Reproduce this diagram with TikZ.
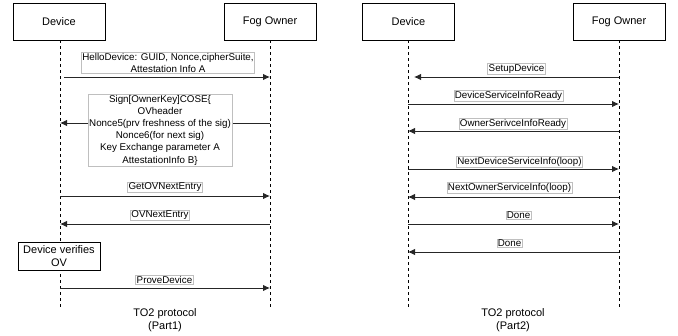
\documentclass[tikz,border=0pt]{standalone}
\usepackage{fontspec}
\setmainfont{Liberation Sans}
\usetikzlibrary{arrows.meta}
\begin{document}
\begin{tikzpicture}[x=1pt,y=-1pt,
  actor/.style={draw=black,line width=0.8pt,minimum width=92pt,minimum height=37pt,font=\fontsize{11}{13}\selectfont,inner sep=0pt},
  life/.style={draw=black,line width=0.7pt,dash pattern=on 3pt off 3pt},
  msg/.style={draw=black!85,line width=0.9pt,-{Latex[length=7pt,width=6.5pt]}},
  lbl/.style={draw=black!25,fill=white,line width=0.5pt,inner xsep=1pt,inner ysep=0.8pt,font=\fontsize{9.8}{12.2}\selectfont,align=center},
  note/.style={draw=black,line width=0.8pt,fill=white,minimum width=82pt,minimum height=28pt,inner sep=0pt,align=center,font=\fontsize{11}{13}\selectfont},
  captext/.style={align=center,font=\fontsize{11}{13}\selectfont}]
\useasboundingbox (0,0) rectangle (678,335);
% ---------- Part 1 ----------
\node[actor] (dev1) at (59,21.5) {Device};
\node[actor] (fog1) at (270,21.5) {Fog Owner};
\coordinate (d1top) at (60,40);
\coordinate (d1bot) at (60,307);
\coordinate (f1top) at (270,40);
\coordinate (f1bot) at (270,307);
\draw[life] (d1top) -- (d1bot);
\draw[life] (f1top) -- (f1bot);

\coordinate (a1s) at (64,77);  \coordinate (a1e) at (270,77);
\coordinate (a2s) at (270,123); \coordinate (a2e) at (60,123);
\coordinate (a3s) at (60,196); \coordinate (a3e) at (270,196);
\coordinate (a4s) at (270,224); \coordinate (a4e) at (60,224);
\coordinate (a5s) at (60,288); \coordinate (a5e) at (270,288);
\draw[msg] (a1s) -- (a1e);
\draw[msg] (a2s) -- (a2e);
\draw[msg] (a3s) -- (a3e);
\draw[msg] (a4s) -- (a4e);
\draw[msg] (a5s) -- (a5e);

\node[lbl] (l1) at (168,63) {HelloDevice: GUID, Nonce,cipherSuite,\\Attestation Info A};
\node[lbl] (l2) at (160,130) {Sign[OwnerKey]COSE\{\\OVheader\\Nonce5(prv freshness of the sig)\\Nonce6(for next sig)\\Key Exchange parameter A\\AttestationInfo B\}};
\node[lbl] (l3) at (165,187.5) {GetOVNextEntry};
\node[lbl] (l4) at (160,215.5) {OVNextEntry};
\node[lbl] (l5) at (164.5,280) {ProveDevice};
\node[note] (ver) at (59,256) {Device verifies\\OV};
\node[captext] (c1) at (165,320.5) {TO2 protocol\\(Part1)};

% ---------- Part 2 ----------
\node[actor] (dev2) at (408.5,21.5) {Device};
\node[actor] (fog2) at (619,21.5) {Fog Owner};
\coordinate (d2top) at (408,40);
\coordinate (d2bot) at (408,307);
\coordinate (f2top) at (619,40);
\coordinate (f2bot) at (619,307);
\draw[life] (d2top) -- (d2bot);
\draw[life] (f2top) -- (f2bot);

\coordinate (b1s) at (619,77);  \coordinate (b1e) at (414,77);
\coordinate (b2s) at (408,104); \coordinate (b2e) at (619,104);
\coordinate (b3s) at (619,131); \coordinate (b3e) at (408,131);
\coordinate (b4s) at (408,169); \coordinate (b4e) at (619,169);
\coordinate (b5s) at (619,197); \coordinate (b5e) at (408,197);
\coordinate (b6s) at (408,224); \coordinate (b6e) at (619,224);
\coordinate (b7s) at (619,252); \coordinate (b7e) at (408,252);
\draw[msg] (b1s) -- (b1e);
\draw[msg] (b2s) -- (b2e);
\draw[msg] (b3s) -- (b3e);
\draw[msg] (b4s) -- (b4e);
\draw[msg] (b5s) -- (b5e);
\draw[msg] (b6s) -- (b6e);
\draw[msg] (b7s) -- (b7e);

\node[lbl] (m1) at (516.5,68.5) {SetupDevice};
\node[lbl] (m2) at (508.5,96) {DeviceServiceInfoReady};
\node[lbl] (m3) at (513,124) {OwnerSerivceInfoReady};
\node[lbl] (m4) at (519.5,161.5) {NextDeviceServiceInfo(loop)};
\node[lbl] (m5) at (509.5,188) {NextOwnerServiceInfo(loop)};
\node[lbl] (m6) at (518.5,215.5) {Done};
\node[lbl] (m7) at (509.5,243) {Done};
\node[captext] (c2) at (513,320.5) {TO2 protocol\\(Part2)};
\end{tikzpicture}
\end{document}
